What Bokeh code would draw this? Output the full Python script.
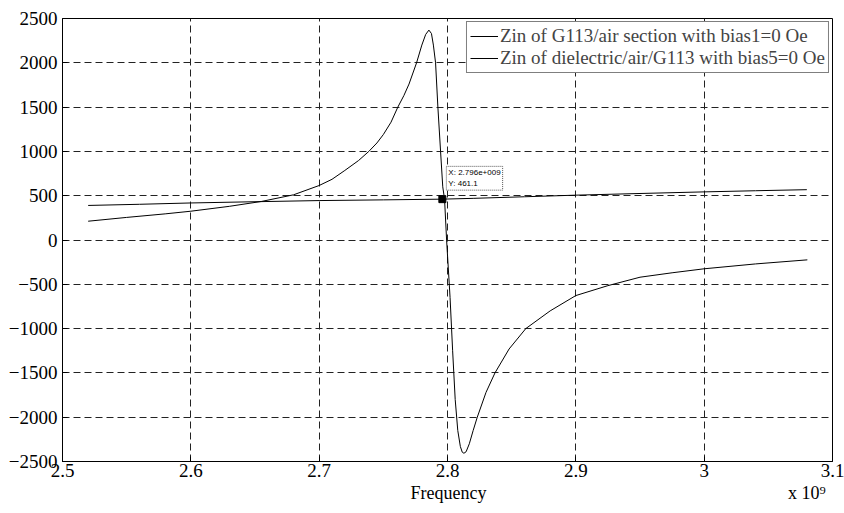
from bokeh.plotting import figure
from bokeh.models import (Range1d, FixedTicker, CustomJSTickFormatter, Legend, LegendItem,
                          Label, Title)
from bokeh.embed import file_html
from bokeh.resources import INLINE

# ---- data (frequency in units of 1e9 Hz) ----
freq_res = [2.52, 2.55, 2.58, 2.60, 2.63, 2.655, 2.68, 2.70, 2.71, 2.72, 2.7307, 2.7387,
            2.745, 2.75, 2.756, 2.7613, 2.766, 2.77, 2.7759, 2.78, 2.783, 2.7855, 2.7875,
            2.789, 2.7907, 2.7925, 2.7946, 2.7963, 2.7977, 2.7993, 2.802, 2.804, 2.806,
            2.808, 2.810, 2.8115, 2.8128, 2.8145, 2.817, 2.820, 2.8232, 2.830, 2.837,
            2.848, 2.861, 2.880, 2.900, 2.925, 2.950, 2.975, 3.000, 3.040, 3.0804]
z_res = [212, 255, 295, 325, 380, 435, 510, 615, 685, 785, 897, 1000,
         1095, 1190, 1330, 1500, 1630, 1760, 2000, 2200, 2320, 2369, 2330,
         2200, 2000, 1500, 1000, 600, 461, 0, -650, -1250, -1800,
         -2150, -2330, -2395, -2407, -2390, -2300, -2150, -2000, -1720, -1500,
         -1230, -1000, -800, -627, -515, -420, -370, -325, -270, -224]

freq_flat = [2.52, 2.56, 2.60, 2.65, 2.70, 2.75, 2.796, 2.82, 2.86, 2.90, 2.95, 3.00, 3.04, 3.08]
z_flat = [390, 403, 418, 432, 445, 453, 461, 470, 488, 506, 525, 543, 556, 568]

tip_x = [2.796]
tip_y = [461.1]
tip_text = "X: 2.796e+009\nY: 461.1"

x_ticks = [2.5, 2.6, 2.7, 2.8, 2.9, 3.0, 3.1]
y_ticks = [-2500, -2000, -1500, -1000, -500, 0, 500, 1000, 1500, 2000, 2500]
legend_labels = ["Zin of G113/air section with bias1=0 Oe",
                 "Zin of dielectric/air/G113 with bias5=0 Oe"]
x_label = "Frequency"
exp_text = "x 10\u2079"

SERIF = "Liberation Serif"

p = figure(width=844, height=513, output_backend="svg", toolbar_location=None,
           x_range=Range1d(2.5, 3.1), y_range=Range1d(-2500, 2500),
           min_border_left=62, min_border_right=12, min_border_top=18, min_border_bottom=52)
p.background_fill_color = "white"
p.border_fill_color = "white"
p.outline_line_color = "black"
p.outline_line_width = 1

r1 = p.line(freq_res, z_res, line_color="black", line_width=1)
r2 = p.line(freq_flat, z_flat, line_color="black", line_width=1)
p.scatter(tip_x, tip_y, marker="square", size=7, color="black")

p.xaxis.ticker = FixedTicker(ticks=x_ticks)
p.xaxis.formatter = CustomJSTickFormatter(code="return String(Math.round(tick*10)/10);")
p.yaxis.ticker = FixedTicker(ticks=y_ticks)

p.axis.major_tick_in = 5
p.axis.major_tick_out = 0
p.axis.minor_tick_in = 0
p.axis.minor_tick_out = 0
p.axis.axis_line_color = "black"
p.axis.major_tick_line_color = "black"
p.axis.major_label_text_font_size = "19px"
p.axis.major_label_text_color = "black"
p.axis.major_label_text_font = SERIF
p.axis.major_label_text_font_style = "normal"
p.xaxis.major_label_standoff = 2
p.yaxis.major_label_standoff = 5

# x label + exponent drawn as one bottom title line (keeps both on the same baseline)
gap = "\u00a0" * 67
p.add_layout(Title(text=x_label + gap + exp_text, align="left", offset=348, standoff=3,
                   text_font=SERIF, text_font_size="18px", text_font_style="normal",
                   text_color="black"), "below")

# grid
p.xgrid.ticker = FixedTicker(ticks=x_ticks)
p.ygrid.ticker = FixedTicker(ticks=y_ticks)
p.grid.grid_line_color = "#222222"
p.grid.grid_line_dash = "7 4"
p.grid.grid_line_width = 1

# legend
legend = Legend(items=[LegendItem(label=legend_labels[0], renderers=[r1]),
                       LegendItem(label=legend_labels[1], renderers=[r2])],
                location="top_right", margin=3, padding=3, spacing=0,
                label_height=20, glyph_height=20, glyph_width=28, label_standoff=2,
                label_text_font=SERIF, label_text_font_size="19px",
                border_line_color="black", border_line_width=1,
                background_fill_color="white", background_fill_alpha=1)
p.add_layout(legend, "center")

# datatip
tip = Label(x=tip_x[0], y=tip_y[0], text=tip_text, x_offset=4, y_offset=9,
            text_font="Liberation Sans", text_font_size="8px", text_color="black",
            text_align="left", text_baseline="bottom",
            border_line_color="#555555", border_line_dash="1 1", border_line_width=1,
            background_fill_color="white", background_fill_alpha=1, padding=2)
p.add_layout(tip)

open("out.html", "w").write(file_html(p, INLINE))
